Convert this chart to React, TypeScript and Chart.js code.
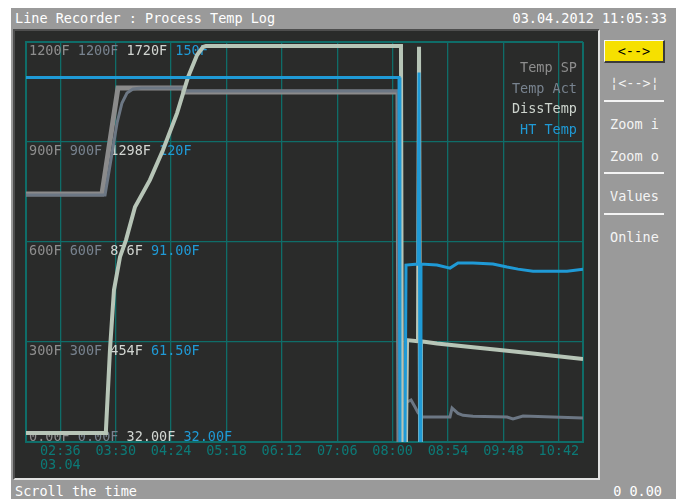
import { useEffect, useRef } from "react";
import { Chart, registerables } from "chart.js";
Chart.register(...registerables);

const FONT = '"DejaVu Sans Mono", monospace';

// ---- header / status texts ----
const titleText = "Line Recorder : Process Temp Log";
const dateText = "03.04.2012 11:05:33";
const statusLeft = "Scroll the time";
const statusRight = "0 0.00";
const buttonLabels = ["¦<-->¦", "Zoom i", "Zoom o", "Values", "Online"];

// ---- time axis (minutes since 00:00 on 03.04) ----
const timeLabels = ["02:36", "03:30", "04:24", "05:18", "06:12", "07:06", "08:00", "08:54", "09:48", "10:42"];
const dateLabel = "03.04";
const windowStart = 122.55;
const windowEnd = 665.55;

// ---- y tick labels per series (bottom -> top) ----
const spTickValues = [0, 300, 600, 900, 1200];
const spTickLabels = ["0.00F", "300F", "600F", "900F", "1200F"];
const actTickLabels = ["0.00F", "300F", "600F", "900F", "1200F"];
const dissTickLabels = ["32.00F", "454F", "876F", "1298F", "1720F"];
const htTickLabels = ["32.00F", "61.50F", "91.00F", "120F", "150F"];

// ---- series ----
const seriesNames = ["Temp SP", "Temp Act", "DissTemp", "HT Temp"];

const spTimes = [122.55, 196.6, 212.2, 275.6, 276.6, 485.2, 486.2];
const spValues = [744, 744, 1062, 1062, 1050, 1050, 0];

const actTimes = [122.55, 199.6, 205.0, 211.3, 216.1, 221.0, 226.9, 235.0, 275.6, 276.6, 485.2, 486.2, 491.1, 492.0, 494.0, 497.9, 501.8, 504.7, 508.6, 535.9, 537.9, 543.7, 548.6, 558.3, 591.5, 597.3, 607.1, 665.6];
const actValues = [741, 741, 840, 957, 1017, 1047, 1059, 1062, 1062, 1053, 1053, 0, 0, 117, 120, 126, 105, 88, 75, 75, 102, 86, 80, 77, 75, 69, 78, 72];

const dissTimes = [122.55, 199.6, 200.5, 204.4, 208.3, 214.2, 220.0, 228.8, 243.4, 256.1, 269.8, 280.5, 289.3, 295.1, 298.0, 488.1, 489.1, 493.0, 494.0, 504.7, 505.7, 506.7, 507.6, 523.2, 558.3, 591.5, 616.8, 665.6];
const dissValues = [70, 70, 83, 420, 673, 813, 884, 1024, 1138, 1264, 1420, 1572, 1665, 1699, 1703, 1703, 32, 32, 462, 457, 1700, 32, 457, 448, 432, 417, 405, 382];

const htTimes = [122.55, 486.2, 487.1, 492.0, 493.0, 504.7, 505.7, 506.7, 507.6, 523.2, 535.9, 543.7, 558.3, 577.8, 591.5, 602.2, 616.8, 650.0, 665.6];
const htValues = [139.5, 139.5, 30, 30, 84.2, 84.5, 141, 30, 84.5, 84.2, 83.3, 84.8, 84.8, 84.5, 83.6, 83.0, 82.4, 82.4, 83.0];

const TEAL = "#0f6d69";
const TEAL_TXT = "#0c7a77";
const C_SP = "#8b8b8b";
const C_ACT = "#6c7784";
const C_DISS = "#b7c5b7";
const C_HT = "#1f9ad6";
const LBL = [ "#8e8e8e", "#78838f", "#d2d6d2", "#1f9ad6" ];
const LEG = [ "#8e8e8e", "#78838f", "#cdd4cd", "#1f9ad6" ];

const toMin = (s: string) => {
  const [h, m] = s.split(":").map(Number);
  return h * 60 + m;
};
const timeTicks = timeLabels.map(toMin);
const pts = (t: number[], v: number[]) => t.map((x, i) => ({ x, y: v[i] }));

const overlay = {
  id: "overlay",
  beforeDatasetsDraw(chart: any) {
    const { ctx, chartArea } = chart;
    const ys = chart.scales.y;
    const cols = [spTickLabels, actTickLabels, dissTickLabels, htTickLabels];
    ctx.save();
    ctx.font = `13.5px ${FONT}`;
    ctx.textBaseline = "alphabetic";
    ctx.textAlign = "left";
    spTickValues.forEach((v, i) => {
      const py = ys.getPixelForValue(v);
      const by = i === 0 ? py - 1.5 : py + 12.8;
      let x = chartArea.left + 3;
      cols.forEach((c, k) => {
        ctx.fillStyle = LBL[k];
        ctx.fillText(c[i], x, by);
        x += ctx.measureText(c[i] + " ").width;
      });
    });
    ctx.textAlign = "right";
    seriesNames.forEach((n, i) => {
      ctx.fillStyle = LEG[i];
      ctx.fillText(n, chartArea.right - 6, chartArea.top + 30 + i * 20.7);
    });
    ctx.restore();
  },
};

function RecorderChart() {
  const ref = useRef<HTMLCanvasElement>(null);
  useEffect(() => {
    if (!ref.current) return;
    const chart = new Chart(ref.current, {
      type: "line",
      data: {
        datasets: [
          { label: seriesNames[3], data: pts(htTimes, htValues), borderColor: C_HT, borderWidth: 3, yAxisID: "yHT" },
          { label: seriesNames[2], data: pts(dissTimes, dissValues), borderColor: C_DISS, borderWidth: 4, yAxisID: "yDiss" },
          { label: seriesNames[1], data: pts(actTimes, actValues), borderColor: C_ACT, borderWidth: 3, yAxisID: "yAct" },
          { label: seriesNames[0], data: pts(spTimes, spValues), borderColor: C_SP, borderWidth: 5, yAxisID: "y" },
        ],
      },
      options: {
        animation: false,
        responsive: false,
        events: [],
        layout: { padding: { left: 11, top: 11, right: 15, bottom: 0 } },
        plugins: { legend: { display: false }, tooltip: { enabled: false } },
        elements: { point: { radius: 0 }, line: { tension: 0, borderJoinStyle: "miter" } },
        scales: {
          x: {
            type: "linear",
            min: windowStart,
            max: windowEnd,
            afterBuildTicks: (s: any) => {
              s.ticks = [windowStart, ...timeTicks, windowEnd].map((value) => ({ value }));
            },
            afterFit: (s: any) => {
              s.height = 36;
            },
            grid: {
              color: TEAL,
              drawTicks: false,
              lineWidth: (c: any) => (c.index === 0 || c.index === timeTicks.length + 1 ? 2 : 1.3),
            },
            border: { color: TEAL, width: 2 },
            ticks: {
              autoSkip: false,
              maxRotation: 0,
              padding: 3,
              color: TEAL_TXT,
              font: { family: FONT, size: 13.5, lineHeight: 1 },
              callback: (value: any) => {
                const i = timeTicks.findIndex((t) => Math.abs(t - Number(value)) < 0.01);
                if (i < 0) return "";
                return i === 0 ? [timeLabels[0], dateLabel] : timeLabels[i];
              },
            },
          },
          y: {
            min: 0,
            max: 1200,
            ticks: { stepSize: 300, display: false },
            grid: { color: TEAL, drawTicks: false, lineWidth: (c: any) => (c.index === 4 ? 2 : 1.3) },
            border: { color: TEAL, width: 2 },
            afterFit: (s: any) => {
              s.width = 0;
            },
          },
          yAct: { display: false, min: 0, max: 1200 },
          yDiss: { display: false, min: 32, max: 1720 },
          yHT: { display: false, min: 32, max: 150 },
        },
      } as any,
      plugins: [overlay],
    });
    return () => chart.destroy();
  }, []);
  return <canvas ref={ref} width={583} height={447} style={{ position: "absolute", left: 0, top: 0, width: 583, height: 447 }} />;
}

const txt = (extra: any) => ({
  position: "absolute" as const,
  font: `13.5px ${FONT}`,
  lineHeight: "16px",
  whiteSpace: "pre" as const,
  color: "#ffffff",
  ...extra,
});

export default function App() {
  const btnTops = [75, 116, 148, 188, 229];
  const sepTops = [100, 172, 213];
  return (
    <div style={{ position: "fixed", left: 0, top: 0, width: 676, height: 499, background: "#ffffff", overflow: "hidden" }}>
      <div style={{ position: "absolute", left: 11, top: 8, width: 665, height: 491, background: "#9a9a9a" }} />
      <div style={txt({ left: 15, top: 10 })}>{titleText}</div>
      <div style={txt({ right: 9, top: 10 })}>{dateText}</div>
      <div
        style={{
          position: "absolute",
          left: 13,
          top: 29,
          width: 587,
          height: 451,
          boxSizing: "border-box",
          background: "#2a2b2a",
          borderTop: "2px solid #4e4e4e",
          borderLeft: "2px solid #4e4e4e",
          borderRight: "2px solid #e2e2e2",
          borderBottom: "2px solid #e2e2e2",
        }}
      >
        <div style={{ position: "relative", width: 583, height: 447 }}>
          <RecorderChart />
        </div>
      </div>
      <div
        style={{
          position: "absolute",
          left: 604,
          top: 40,
          width: 61,
          height: 23,
          boxSizing: "border-box",
          background: "#f6e000",
          borderTop: "1px solid #f8f8f8",
          borderLeft: "1px solid #f8f8f8",
          borderRight: "2px solid #3a3a3a",
          borderBottom: "2px solid #3a3a3a",
          ...txt({ color: "#000000", lineHeight: "20px", textAlign: "center" }),
          position: "absolute",
        }}
      >
        {"<-->"}
      </div>
      {buttonLabels.map((b, i) => (
        <div key={b} style={txt({ left: 604, width: 61, top: btnTops[i], textAlign: "center", color: "#f4f4f4" })}>
          {b}
        </div>
      ))}
      {sepTops.map((t) => (
        <div key={t} style={{ position: "absolute", left: 604, top: t, width: 60, height: 2, background: "#f4f4f4" }} />
      ))}
      <div style={txt({ left: 15, top: 483 })}>{statusLeft}</div>
      <div style={txt({ right: 14, top: 483 })}>{statusRight}</div>
    </div>
  );
}
